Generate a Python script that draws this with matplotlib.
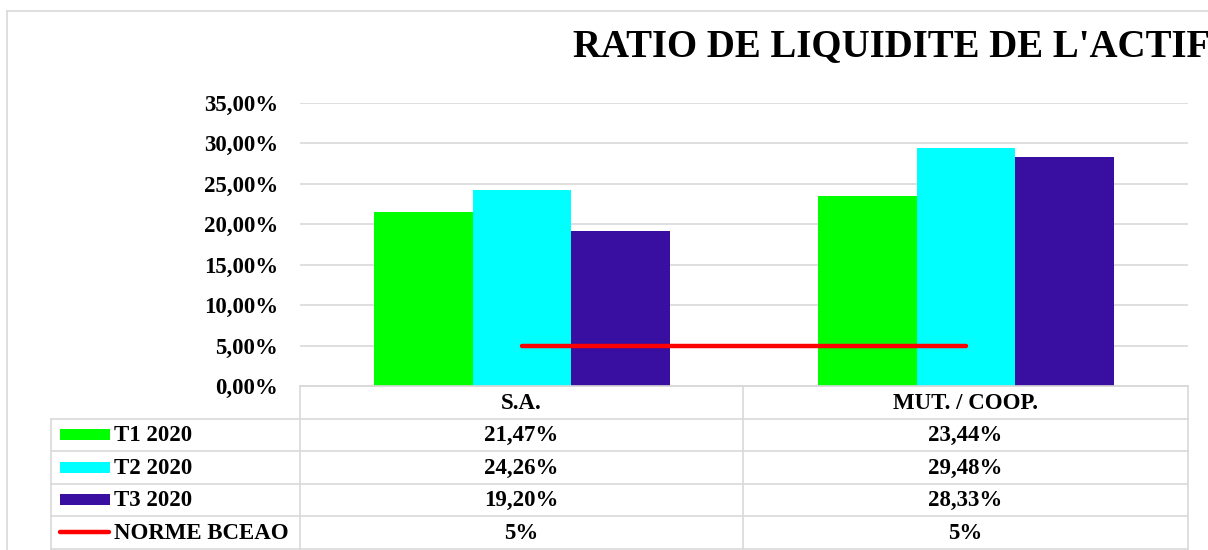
import matplotlib
matplotlib.use("Agg")
import matplotlib.pyplot as plt
from matplotlib.ticker import FuncFormatter, MultipleLocator
from matplotlib.patches import Rectangle

# Data
categories = ["S.A.", "MUT. / COOP."]
series_names = ["T1 2020", "T2 2020", "T3 2020"]
t1_2020 = [0.2147, 0.2344]
t2_2020 = [0.2426, 0.2948]
t3_2020 = [0.1920, 0.2833]
norme_bceao = [0.05, 0.05]
norme_labels = ["5%", "5%"]
colors = ["#00FF00", "#00FFFF", "#380FA0"]
red = "#FF0000"
grid_col = "#D9D9D9"

W, H = 1208, 550
FONT = "Liberation Serif"
FS = 16.5

def fmt_pct(v, decimals=2):
    return f"{v * 100:.{decimals}f}%".replace(".", ",")

fig = plt.figure(figsize=(W / 100, H / 100), dpi=100)

# plot area in pixel positions
px_left, px_right, px_top, px_bottom = 300, 1188, 103, 386
ax = fig.add_axes([px_left / W, 1 - px_bottom / H,
                   (px_right - px_left) / W, (px_bottom - px_top) / H])

n = len(series_names)
bw = 1 / 4.5
x = list(range(len(categories)))
all_series = [t1_2020, t2_2020, t3_2020]
for i, vals in enumerate(all_series):
    ax.bar([xi + (i - 1) * bw for xi in x], vals, width=bw, color=colors[i],
           zorder=2, linewidth=0)
ax.plot(x, norme_bceao, color=red, lw=3.2, solid_capstyle="round", zorder=3)

ax.set_xlim(-0.5, len(categories) - 0.5)
ax.set_ylim(0, 0.35)
ax.yaxis.set_major_locator(MultipleLocator(0.05))
ax.yaxis.set_major_formatter(FuncFormatter(lambda v, p: fmt_pct(v)))
ax.grid(axis="y", color=grid_col, lw=1.2, zorder=0)
ax.set_xticks([])
for s in ["left", "right", "top"]:
    ax.spines[s].set_visible(False)
ax.spines["bottom"].set_color(grid_col)
ax.spines["bottom"].set_linewidth(1.2)
ax.tick_params(axis="y", length=0, pad=16)
for lab in ax.get_yticklabels():
    lab.set_fontfamily(FONT)
    lab.set_fontweight("bold")
    lab.set_fontsize(FS)

# overlay in pixel coordinates for the data table and chart border
ov = fig.add_axes([0, 0, 1, 1], zorder=-1)
ov.set_xlim(0, W)
ov.set_ylim(H, 0)
ov.axis("off")

# chart area border (extends past the crop)
ov.plot([7, W], [11, 11], color=grid_col, lw=1.2)
ov.plot([7, 7], [11, H], color=grid_col, lw=1.2)

# data table
tab_left, col_mid = 51, 743
row_h = 32.5
hdr_top = px_bottom
rows_y = [hdr_top + row_h * k for k in range(len(series_names) + 3)]
txt_kw = dict(fontfamily=FONT, fontweight="bold", fontsize=FS)

# horizontal lines
ov.plot([px_left, px_right], [rows_y[0], rows_y[0]], color=grid_col, lw=1.2)
for y in rows_y[1:]:
    ov.plot([tab_left, px_right], [y, y], color=grid_col, lw=1.2)
# vertical lines
ov.plot([tab_left, tab_left], [rows_y[1], rows_y[-1]], color=grid_col, lw=1.2)
for xv in [px_left, col_mid, px_right]:
    ov.plot([xv, xv], [rows_y[0], rows_y[-1]], color=grid_col, lw=1.2)

col_centers = [(px_left + col_mid) / 2, (col_mid + px_right) / 2]
for c, name in zip(col_centers, categories):
    ov.text(c, (rows_y[0] + rows_y[1]) / 2 + 1, name, ha="center", va="center", **txt_kw)

row_labels = series_names + ["NORME BCEAO"]
row_values = [[fmt_pct(v) for v in s] for s in all_series] + [norme_labels]
for r, (lab, vals) in enumerate(zip(row_labels, row_values)):
    yc = (rows_y[r + 1] + rows_y[r + 2]) / 2
    if r < n:
        ov.add_patch(Rectangle((60, yc - 5.5), 50, 11, color=colors[r], lw=0))
    else:
        ov.plot([60, 109], [yc, yc], color=red, lw=3.2, solid_capstyle="round")
    ov.text(114, yc + 1, lab, ha="left", va="center", **txt_kw)
    for c, v in zip(col_centers, vals):
        ov.text(c, yc + 1, v, ha="center", va="center", **txt_kw)

fig.text(573 / W, 1 - 56 / H, "RATIO DE LIQUIDITE DE L'ACTIF", ha="left",
         va="baseline", fontfamily=FONT, fontweight="bold", fontsize=28)

fig.savefig("out.png", dpi=100)
